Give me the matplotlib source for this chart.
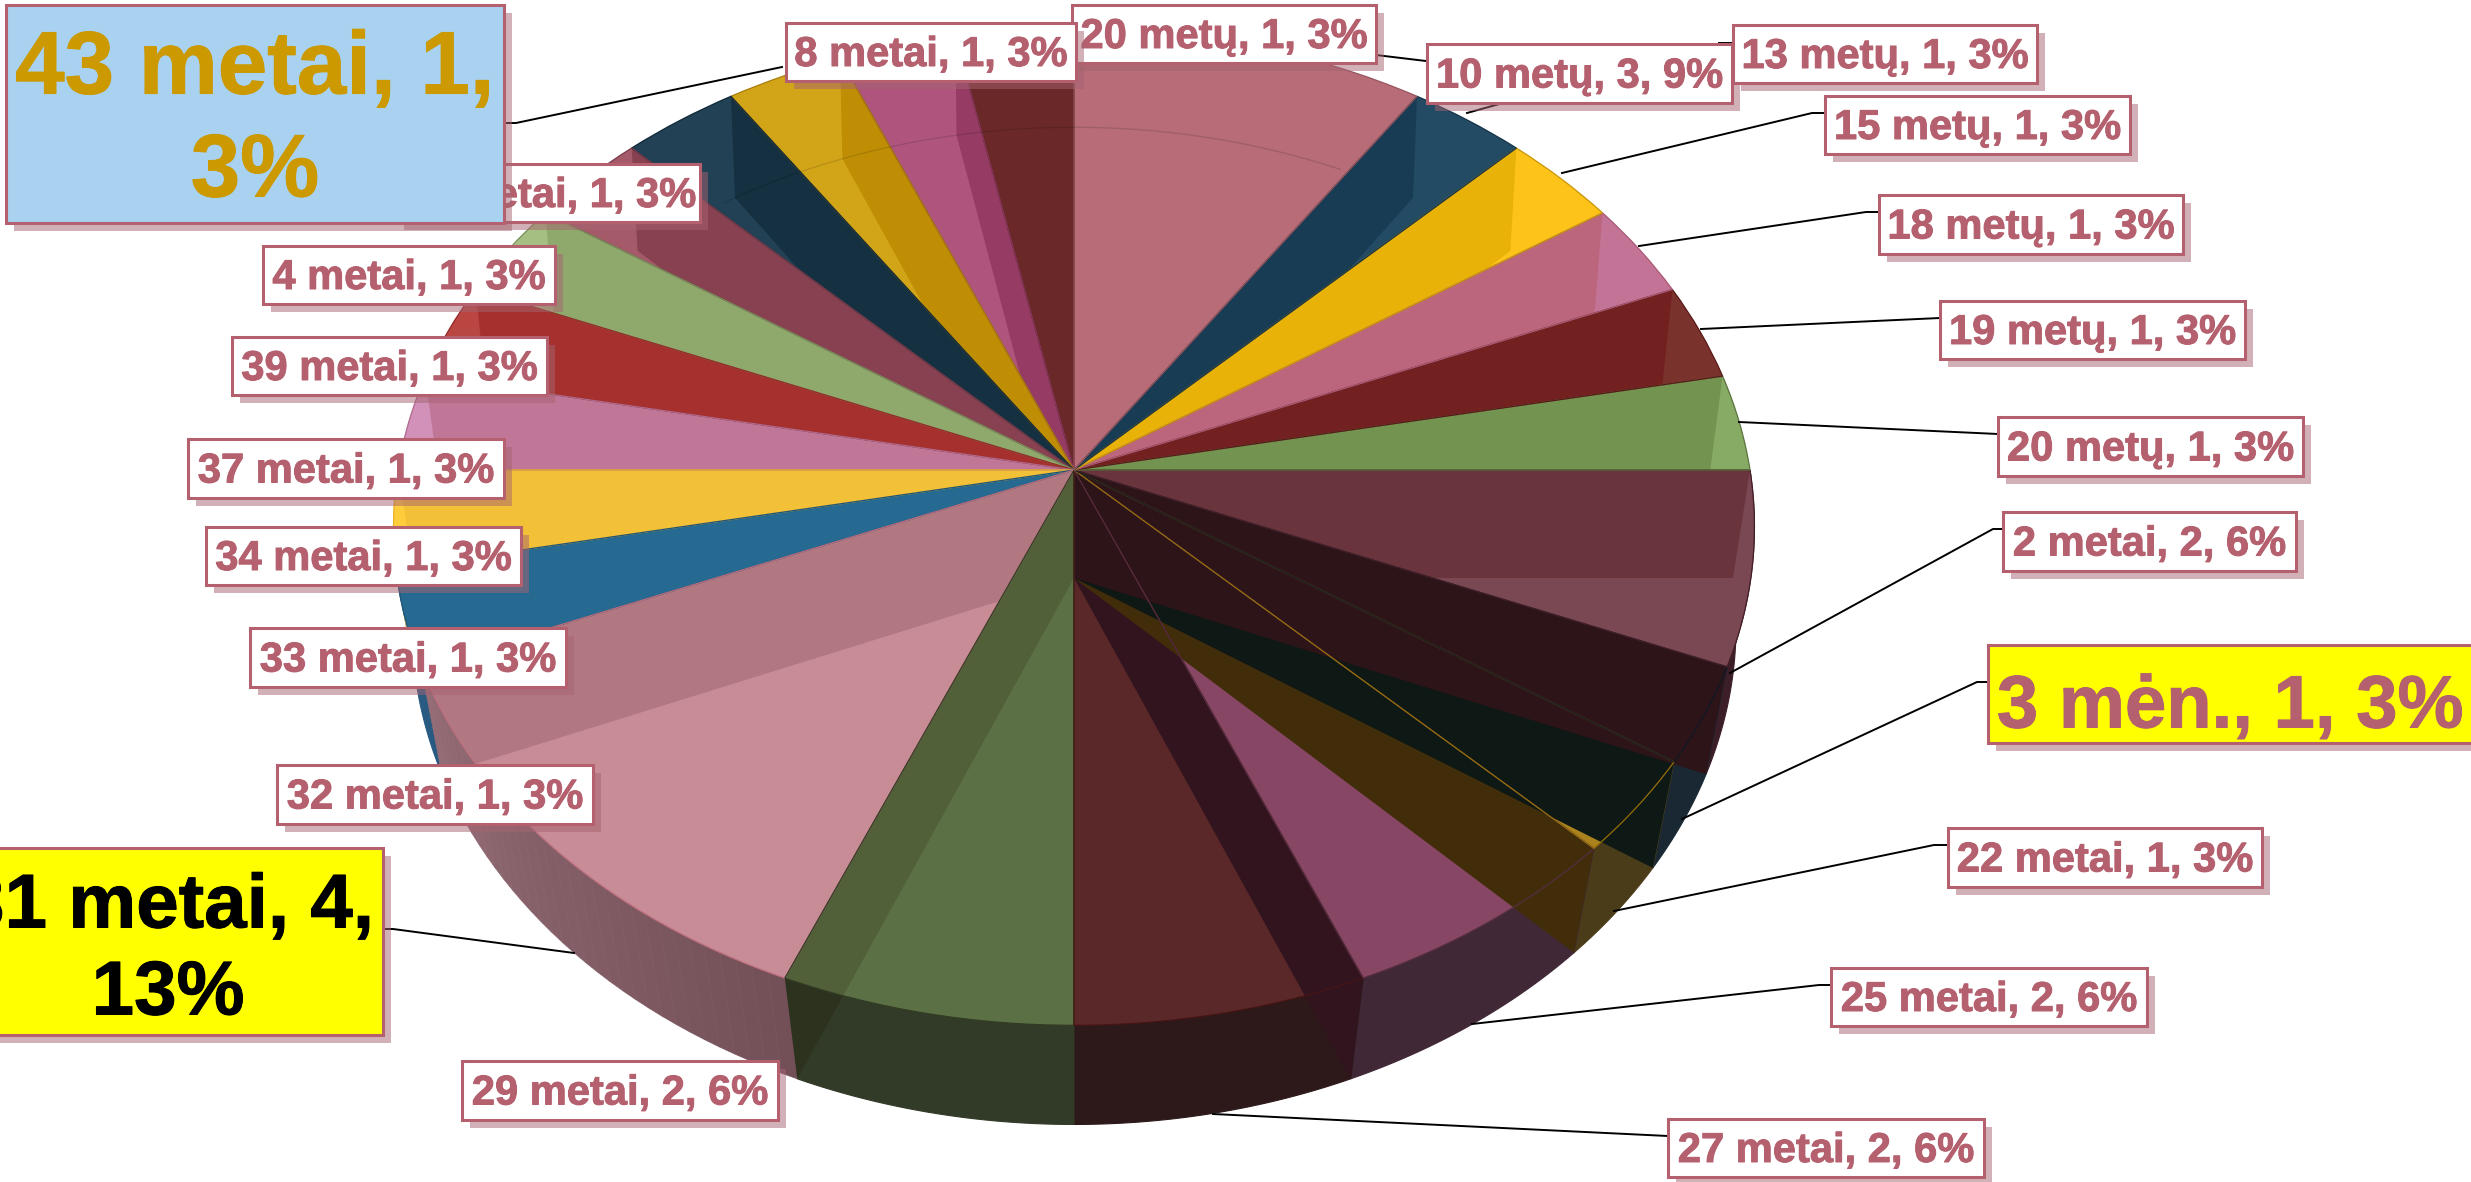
import numpy as np
import matplotlib
matplotlib.use('Agg')
import matplotlib.pyplot as plt
import matplotlib.patheffects as pe
from matplotlib.patches import Polygon, Rectangle
from matplotlib.transforms import Transform

# data
ages = ['10 metų', '13 metų', '15 metų', '18 metų', '19 metų', '20 metų', '2 metai', '3 mėn.',
        '22 metai', '25 metai', '27 metai', '29 metai', '31 metai', '32 metai', '33 metai',
        '34 metai', '37 metai', '39 metai', '4 metai', '41 metai', '43 metai', '8 metai', '20 metų']
counts = [3, 1, 1, 1, 1, 1, 2, 1, 1, 2, 2, 2, 4, 1, 1, 1, 1, 1, 1, 1, 1, 1, 1]
percents = [9, 3, 3, 3, 3, 3, 6, 3, 3, 6, 6, 6, 13, 3, 3, 3, 3, 3, 3, 3, 3, 3, 3]

# colours, 0-255
top_colors = [(183, 108, 120), (35, 75, 100), (254, 195, 25), (195, 115, 150), (122, 50, 45), (135, 170, 100),
              (122, 72, 82), (25, 40, 50), (170, 130, 30), (135, 70, 100), (90, 40, 40), (92, 112, 70),
              (200, 140, 150), (38, 105, 145), (255, 205, 60), (210, 145, 185), (185, 70, 65), (165, 190, 130),
              (165, 90, 105), (35, 65, 85), (210, 165, 25), (175, 85, 125), (107, 40, 40)]
wall_colors = [(183, 108, 120), (25, 60, 85), (232, 178, 8), (187, 102, 125), (115, 32, 32), (115, 148, 80),
               (105, 52, 60), (45, 20, 25), (14, 24, 20), (65, 45, 10), (50, 20, 30), (82, 96, 58),
               (178, 120, 130), (38, 105, 145), (243, 193, 55), (192, 118, 150), (165, 48, 45), (143, 168, 108),
               (135, 65, 80), (20, 48, 65), (192, 142, 5), (150, 60, 100), (107, 40, 40)]
edge_colors = [(150, 85, 95), (20, 50, 70), (200, 150, 10), (170, 90, 115), (90, 25, 25), (90, 115, 60),
               (70, 30, 40), (15, 25, 35), (150, 110, 10), (85, 45, 65), (70, 20, 20), (50, 60, 35),
               (190, 110, 125), (30, 85, 120), (235, 180, 40), (175, 105, 140), (150, 40, 40), (120, 145, 90),
               (120, 60, 75), (15, 40, 55), (170, 125, 10), (135, 55, 90), (80, 25, 25)]
rim_colors = {6: (60, 30, 40), 7: (25, 40, 50), 8: (75, 60, 25), 9: (65, 40, 55), 10: (45, 25, 25),
              11: (50, 58, 40), 13: (40, 90, 130), 14: (255, 205, 60)}
rim_gradient = {12: ((115, 80, 88), (148, 108, 118))}


def rgb(c):
    return tuple(v / 255 for v in c)


W, H = 2471, 1182
# center x, center y, rx, ry, perspective
TOP = (1074, 470, 676, 492, 0.114)
BOT = (1074, 578, 659, 494, 0.096)


def project(u, v, d):
    w = 1 + d[4] * v
    return d[0] + d[2] * u / w, d[1] - d[3] * v / w


class Persp(Transform):
    input_dims = 2
    output_dims = 2

    def __init__(self, disc):
        super().__init__()
        self.disc = disc

    def transform_non_affine(self, values):
        x, y = project(values[:, 0], values[:, 1], self.disc)
        return np.column_stack([x, y])


def rim_point(deg, disc):
    t = np.radians(deg)
    return project(np.sin(t), np.cos(t), disc)


fig = plt.figure(figsize=(W / 100, H / 100), dpi=100)
ax = fig.add_axes([0, 0, 1, 1])

edges = np.cumsum([0] + counts) / sum(counts) * 360

# outer side wall between the two rims
for i, c in rim_colors.items():
    a = np.linspace(edges[i], edges[i + 1], 30)
    top = [rim_point(d, TOP) for d in a]
    bot = [rim_point(d, BOT) for d in a[::-1]]
    ax.add_patch(Polygon(top + bot, fc=rgb(c), ec=rgb(c), lw=0.8, zorder=1))
for i, (c0, c1) in rim_gradient.items():
    a = np.linspace(edges[i], edges[i + 1], 33)
    for j in range(32):
        f = j / 31
        c = [c0[n] + (c1[n] - c0[n]) * f for n in range(3)]
        seg = [rim_point(a[j], TOP), rim_point(a[j + 1], TOP), rim_point(a[j + 1], BOT), rim_point(a[j], BOT)]
        ax.add_patch(Polygon(seg, fc=rgb(c), ec=rgb(c), lw=0.5, zorder=1))

# top face
wedges, _ = ax.pie(counts, colors=[rgb(c) for c in top_colors], startangle=90, counterclock=False,
                   wedgeprops={'lw': 0})
top_tr = Persp(TOP) + ax.transData
for w_ in wedges:
    w_.set_transform(top_tr)
    w_.set_zorder(2)


def wall(deg, color, clip=None, zorder=3):
    pts = [TOP[:2], rim_point(deg, TOP), rim_point(deg, BOT), BOT[:2]]
    p = Polygon(pts, fc=rgb(color), ec='none', lw=0, zorder=zorder)
    ax.add_patch(p)
    if clip is not None:
        p.set_clip_path(clip)
    return p


# radial walls seen through the top face
for i in [1, 2, 3, 4, 5, 6]:
    wall(edges[i], wall_colors[i], clip=wedges[i])
for i in range(12, 22):
    wall(edges[i + 1], wall_colors[i], clip=wedges[i])

# lower right ones are not held inside their own slice, later angle goes under
wall(edges[11 + 1], (45, 50, 30), zorder=1.5)
wall(edges[11 + 1], wall_colors[11], clip=wedges[11])
for n, i in enumerate([10, 9, 8, 7]):
    wall(edges[i], wall_colors[i], zorder=3 + n * 0.1)

# slice edges on top of all that, first slices last so a line keeps the colour of the slice ending there
lines, _ = ax.pie(counts, colors=['none'] * len(counts), startangle=90, counterclock=False,
                  wedgeprops={'lw': 0.9})
for n, (w_, c) in enumerate(zip(lines, edge_colors)):
    w_.set_transform(top_tr)
    w_.set_edgecolor(rgb(c))
    w_.set_zorder(4.9 - n * 0.01)

# far rim of the lower disc shows faintly
a = np.linspace(-35, 26, 60)
xs, ys = zip(*[rim_point(d, BOT) for d in a])
ax.plot(xs, ys, color='black', alpha=0.12, lw=1, zorder=5)

ax.set_aspect('auto')
ax.set_xlim(0, W)
ax.set_ylim(H, 0)
ax.axis('off')

# leader lines
leaders = [[(504, 123), (516, 123), (782, 67)], [(1376, 55), (1426, 61)], [(1503, 103), (1467, 113)],
           [(1733, 43), (1719, 43)], [(1825, 113), (1812, 113), (1562, 173)],
           [(1879, 212), (1866, 212), (1639, 246)], [(1940, 318), (1701, 329)], [(1998, 434), (1739, 422)],
           [(2003, 529), (1993, 529), (1730, 673)], [(1988, 682), (1977, 682), (1682, 819)],
           [(1948, 845), (1934, 845), (1614, 911)], [(1831, 985), (1819, 985), (1472, 1024)],
           [(1668, 1136), (1213, 1114)], [(383, 929), (393, 929), (574, 953)]]
for pts in leaders:
    xs, ys = zip(*pts)
    ax.plot(xs, ys, color='black', lw=1.4, zorder=5.5)

ROSE = rgb((181, 96, 110))
BOXES = {5: (1998, 417, 2303, 476), 0: (1427, 44, 1732, 103), 1: (1733, 25, 2037, 83), 2: (1825, 96, 2130, 154),
         3: (1879, 195, 2183, 254), 4: (1940, 301, 2245, 359), 6: (2003, 512, 2296, 571),
         7: (1988, 645, 2480, 743), 8: (1948, 828, 2262, 887), 9: (1831, 968, 2147, 1026),
         10: (1668, 1119, 1984, 1177), 11: (462, 1061, 778, 1120), 12: (-47, 848, 383, 1035),
         13: (277, 765, 593, 824), 14: (250, 628, 566, 687), 15: (206, 527, 521, 585), 16: (188, 439, 504, 498),
         17: (232, 337, 547, 395), 18: (263, 246, 555, 304), 19: (396, 164, 700, 222), 20: (6, 5, 504, 223),
         21: (786, 23, 1076, 81), 22: (1072, 5, 1376, 63)}
draw_order = [22, 21, 0, 1, 2, 3, 4, 5, 6, 7, 8, 9, 10, 11, 12, 13, 14, 15, 16, 17, 18, 19, 20]

for n, i in enumerate(draw_order):
    x0, y0, x1, y1 = BOXES[i]
    z = 6 + n * 0.1
    txt = f'{ages[i]}, {counts[i]}, {percents[i]}%'
    fill, tc, size, ls, dy = 'white', ROSE, 30, 1.05, 3
    if i == 20:
        fill, tc, size, ls, dy = rgb((168, 210, 240)), rgb((204, 153, 0)), 64, 1.29, 8
        txt = f'{ages[i]}, {counts[i]},\n{percents[i]}%'
    elif i == 12:
        fill, tc, size, ls, dy = (1, 1, 0), 'black', 55, 1.29, 10
        txt = f'{ages[i]}, {counts[i]},\n{percents[i]}%'
    elif i == 7:
        fill, tc, size, dy = (1, 1, 0), ROSE, 53.5, 14
    ax.add_patch(Rectangle((x0 + 8, y0 + 8), x1 - x0, y1 - y0, fc=rgb((165, 100, 113)), alpha=0.5,
                           ec='none', zorder=z))
    ax.add_patch(Rectangle((x0, y0), x1 - x0, y1 - y0, fc=fill, ec=ROSE, lw=2.2, zorder=z + 0.01))
    tx = (x0 + x1) / 2 if i != 7 else 2230
    t = ax.text(tx, (y0 + y1) / 2 + dy, txt, ha='center', va='center', color=tc, fontsize=size, fontweight='bold',
                family='Liberation Sans', linespacing=ls, zorder=z + 0.02)
    t.set_path_effects([pe.withStroke(linewidth=0.7, foreground=tc)])

fig.savefig('out.png', dpi=100, facecolor='white')
